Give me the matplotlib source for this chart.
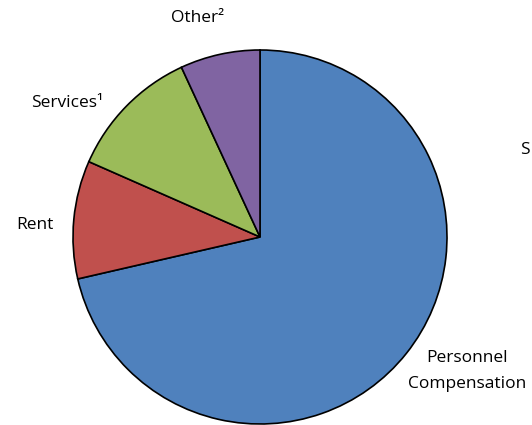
import matplotlib.pyplot as plt

# spending shares (percent)
categories = ['Personnel\nCompensation', 'Rent', 'Services\u00b9', 'Other\u00b2']
shares = [71.4, 10.2, 11.5, 6.9]
colors = ['#4F81BD', '#C0504D', '#9BBB59', '#8064A2']

plt.rcParams['font.family'] = ['Open Sans', 'DejaVu Sans']

W, H = 532, 425
fig = plt.figure(figsize=(W / 100, H / 100), dpi=100)

# pie centred at (260, 237) px with radius 187 px
cx, cy, r = 260, 237, 187
ax = fig.add_axes([(cx - r) / W, (H - cy - r) / H, 2 * r / W, 2 * r / H])
ax.pie(shares, colors=colors, startangle=90, counterclock=False,
       wedgeprops={'edgecolor': 'black', 'linewidth': 1.2})
ax.set_xlim(-1, 1)
ax.set_ylim(-1, 1)
ax.axis('off')

# label positions in pixels (x, y from top), Excel-style outside labels
label_pos = {
    'Personnel\nCompensation': (467, 371),
    'Rent': (35, 225),
    'Services\u00b9': (67, 103),
    'Other\u00b2': (198, 18),
}
for name in categories:
    x, y = label_pos[name]
    fig.text(x / W, 1 - y / H, name, ha='center', va='center', fontsize=12.5,
             linespacing=1.75, color='black')

# partly visible text cut off at the right edge
fig.text(520 / W, 1 - 150 / H, 'S', ha='left', va='center', fontsize=12.5)

fig.savefig('out.png', dpi=100)
